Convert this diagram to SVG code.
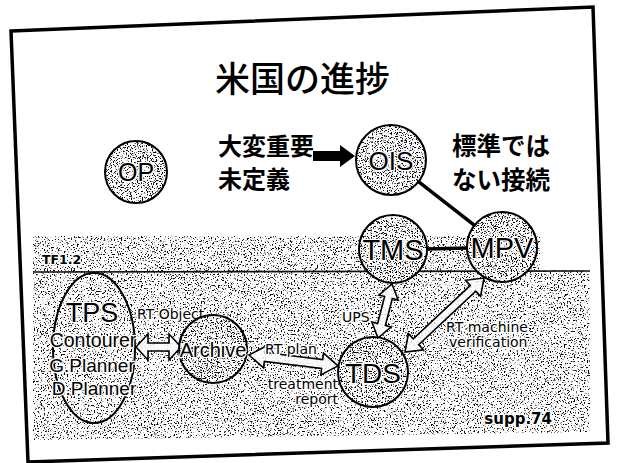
<svg xmlns="http://www.w3.org/2000/svg" width="617" height="463" viewBox="0 0 617 463">
  <defs>
    <filter id="spk" x="0" y="0" width="1" height="1" color-interpolation-filters="sRGB">
      <feTurbulence type="fractalNoise" baseFrequency="0.7" numOctaves="2" seed="7" result="n"/>
      <feColorMatrix in="n" type="matrix" values="0 0 0 0 0  0 0 0 0 0  0 0 0 0 0  9 0 0 0 -5.15" result="d"/>
      <feComposite in="d" in2="SourceAlpha" operator="in"/>
    </filter>
    <filter id="spkn" x="0" y="0" width="1" height="1" color-interpolation-filters="sRGB">
      <feTurbulence type="fractalNoise" baseFrequency="0.8" numOctaves="2" seed="11" result="n"/>
      <feColorMatrix in="n" type="matrix" values="0 0 0 0 0  0 0 0 0 0  0 0 0 0 0  9 0 0 0 -4.9" result="d"/>
      <feComposite in="d" in2="SourceAlpha" operator="in"/>
    </filter>
    <style>
      .page{fill:#fff}
      .border{fill:none;stroke:#000;stroke-width:3.5;stroke-linejoin:miter}
      .spk{fill:#000;filter:url(#spk)}
      .spkn{fill:#000;filter:url(#spkn)}
      .nbg{fill:#fff}
      .nring{fill:none;stroke:#000;stroke-width:2}
      .nlab{font-family:"Liberation Sans",Arial,sans-serif;fill:#000;text-anchor:middle;stroke:#fff;stroke-width:2.5;paint-order:stroke;stroke-linejoin:round}
      .jp{font-family:"Noto Sans CJK JP",sans-serif;fill:#000}
      .lab{font-family:"DejaVu Sans",Verdana,sans-serif;font-size:14px;fill:#000;stroke:#fff;stroke-width:3;paint-order:stroke;stroke-linejoin:round}
      .line{stroke:#000;stroke-width:3.5;fill:none}
      .harrow{fill:#fff;fill-opacity:0.85;stroke:#000;stroke-width:1.6;stroke-linejoin:miter}
      .barrow{fill:#000}
    </style>
  </defs>

  <rect class="page" x="0" y="0" width="617" height="463"/>

  <!-- slide border -->
  <polygon class="border" points="11,31 593,7 608,443 28,462"/>

  <!-- speckled background region -->
  <g id="background">
    <polygon class="spk" points="33,236 540,236 540,270 590,270 590,432 33,440"/>
    <line x1="33" y1="272" x2="590" y2="271" stroke="#111" stroke-width="1.6"/>
    <text class="lab" x="42" y="264" style="font-weight:bold;font-size:12.5px">TF1.2</text>
    <text class="lab" x="552" y="424" style="font-weight:bold;font-size:15px" text-anchor="end">supp.74</text>
  </g>

  <!-- title and notes -->
  <g id="title">
    <text class="jp" x="215" y="92" font-size="35" font-weight="500">米国の進捗</text>
  </g>
  <g id="note-left">
    <text class="jp" x="218" y="155" font-size="24" font-weight="bold">大変重要</text>
    <text class="jp" x="218" y="188" font-size="24" font-weight="bold">未定義</text>
  </g>
  <g id="note-right">
    <text class="jp" x="452" y="155" font-size="24.5" font-weight="bold">標準では</text>
    <text class="jp" x="452" y="189" font-size="24.5" font-weight="bold">ない接続</text>
  </g>

  <!-- connectors -->
  <g id="connectors">
    <path class="barrow" d="M313,151 L340,151 L340,145 L355,156 L340,167 L340,161 L313,161 Z"/>
    <line class="line" x1="418.5" y1="181.6" x2="474.5" y2="225.4"/>
    <line class="line" x1="427" y1="249" x2="467" y2="248"/>
    <path class="harrow" transform="translate(136,347)" d="M0,0 L12,-13 L12,-4 L33,-4 L33,-13 L45,0 L33,13 L33,4 L12,4 L12,13 Z"/>
    <path class="harrow" transform="translate(249,355) rotate(7)" d="M0,0 L16,-11 L16,-4.5 L73.7,-4.5 L73.7,-11 L89.7,0 L73.7,11 L73.7,4.5 L16,4.5 L16,11 Z"/>
    <path class="harrow" transform="translate(378,338) rotate(-75.5)" d="M0,0 L14,-10 L14,-4 L41.8,-4 L41.8,-10 L55.8,0 L41.8,10 L41.8,4 L14,4 L14,10 Z"/>
    <path class="harrow" transform="translate(405,352) rotate(-43.1)" d="M0,0 L15,-11 L15,-4 L93.2,-4 L93.2,-11 L108.2,0 L93.2,11 L93.2,4 L15,4 L15,11 Z"/>
    <text class="lab" x="137" y="319">RT Object</text>
    <text class="lab" x="265" y="354">RT plan</text>
    <text class="lab" x="338" y="389" text-anchor="end">treatment</text>
    <text class="lab" x="338" y="404" text-anchor="end">report</text>
    <text class="lab" x="342" y="322">UPS</text>
    <text class="lab" x="446" y="332">RT machine</text>
    <text class="lab" x="449" y="347">verification</text>
  </g>

  <!-- nodes -->
  <g id="node-OP">
    <circle class="nbg" cx="136" cy="172" r="31"/>
    <circle class="spkn" cx="136" cy="172" r="31"/>
    <circle class="nring" cx="136" cy="172" r="31"/>
    <text class="nlab" x="136" y="181" font-size="25">OP</text>
  </g>
  <g id="node-OIS">
    <circle class="nbg" cx="391" cy="160" r="35"/>
    <circle class="spkn" cx="391" cy="160" r="35"/>
    <circle class="nring" cx="391" cy="160" r="35"/>
    <text class="nlab" x="391" y="170" font-size="26">OIS</text>
  </g>
  <g id="node-TMS">
    <circle class="nbg" cx="393" cy="249" r="34"/>
    <circle class="spkn" cx="393" cy="249" r="34"/>
    <circle class="nring" cx="393" cy="249" r="34"/>
    <text class="nlab" x="393" y="260" font-size="29">TMS</text>
  </g>
  <g id="node-MPV">
    <circle class="nbg" cx="502" cy="247" r="35"/>
    <circle class="spkn" cx="502" cy="247" r="35"/>
    <circle class="nring" cx="502" cy="247" r="35"/>
    <text class="nlab" x="502" y="258" font-size="29">MPV</text>
  </g>
  <g id="node-TDS">
    <circle class="nbg" cx="373" cy="372" r="35"/>
    <circle class="spkn" cx="373" cy="372" r="35"/>
    <circle class="nring" cx="373" cy="372" r="35"/>
    <text class="nlab" x="373" y="383" font-size="28">TDS</text>
  </g>
  <g id="node-Archive">
    <circle class="nbg" cx="213" cy="349" r="34"/>
    <circle class="spkn" cx="213" cy="349" r="34"/>
    <circle class="nring" cx="213" cy="349" r="34"/>
    <text class="nlab" x="213" y="357" font-size="20">Archive</text>
  </g>
  <g id="node-TPS">
    <ellipse class="nring" cx="94" cy="348" rx="41" ry="75"/>
    <text class="nlab" x="92" y="322" font-size="27">TPS</text>
    <text class="nlab" x="93" y="347" font-size="19.5">Contourer</text>
    <text class="nlab" x="92" y="372" font-size="19">G.Planner</text>
    <text class="nlab" x="94" y="395" font-size="19">D.Planner</text>
  </g>
</svg>
